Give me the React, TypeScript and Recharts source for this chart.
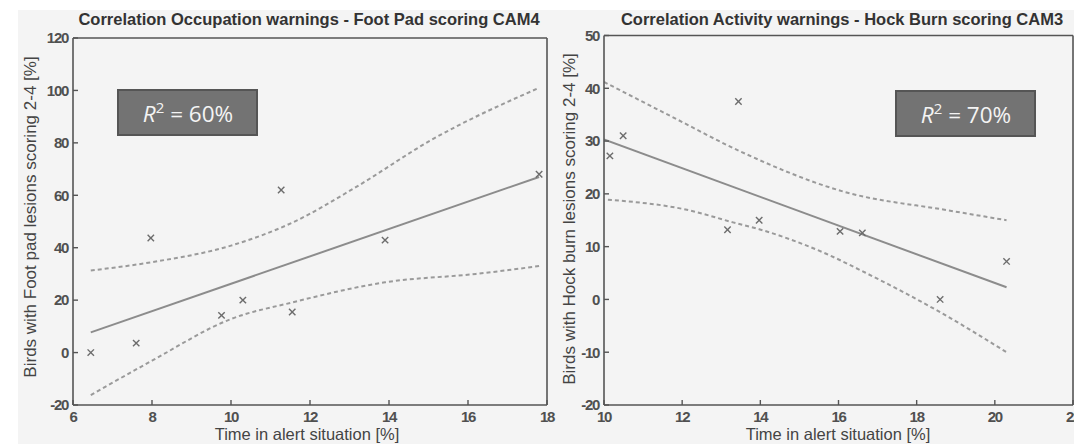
import React from 'react';
import { ComposedChart, XAxis, YAxis, Scatter, Line } from 'recharts';

// ---------- Left panel data ----------
const leftTitle = 'Correlation Occupation warnings - Foot Pad scoring CAM4';
const leftXLabel = 'Time in alert situation [%]';
const leftYLabel = 'Birds with Foot pad lesions scoring 2-4 [%]';
const leftR2 = '60%';
const leftXTicks = [6, 8, 10, 12, 14, 16, 18];
const leftYTicks = [-20, 0, 20, 40, 60, 80, 100, 120];
const leftPoints = [
  { x: 6.45, y: 0 },
  { x: 7.6, y: 3.6 },
  { x: 7.97, y: 43.7 },
  { x: 9.76, y: 14.2 },
  { x: 10.3, y: 20 },
  { x: 11.27, y: 62 },
  { x: 11.55, y: 15.5 },
  { x: 13.9, y: 42.9 },
  { x: 17.8, y: 68 },
];
const leftFit = [
  { x: 6.45, y: 7.7 },
  { x: 17.8, y: 67 },
];
const leftUpper = [
  { x: 6.45, y: 31.3 },
  { x: 8, y: 34.5 },
  { x: 10, y: 40.8 },
  { x: 11.57, y: 49.7 },
  { x: 13.15, y: 63 },
  { x: 15.06, y: 81 },
  { x: 17.8, y: 101 },
];
const leftLower = [
  { x: 6.45, y: -16.2 },
  { x: 8, y: -3.1 },
  { x: 10, y: 12.8 },
  { x: 11.57, y: 19.2 },
  { x: 13.9, y: 26.8 },
  { x: 16.2, y: 30 },
  { x: 17.8, y: 33 },
];

// ---------- Right panel data ----------
const rightTitle = 'Correlation Activity warnings - Hock Burn scoring CAM3';
const rightXLabel = 'Time in alert situation [%]';
const rightYLabel = 'Birds with Hock burn lesions scoring 2-4 [%]';
const rightR2 = '70%';
const rightXTicks = [10, 12, 14, 16, 18, 20, 22];
const rightYTicks = [-20, -10, 0, 10, 20, 30, 40, 50];
const rightPoints = [
  { x: 10.15, y: 27.2 },
  { x: 10.49, y: 31 },
  { x: 13.16, y: 13.2 },
  { x: 13.44, y: 37.5 },
  { x: 13.97, y: 15 },
  { x: 16.04, y: 12.9 },
  { x: 16.61, y: 12.6 },
  { x: 18.6, y: 0 },
  { x: 20.3, y: 7.2 },
];
const rightFit = [
  { x: 10, y: 30.3 },
  { x: 20.3, y: 2.3 },
];
const rightUpper = [
  { x: 10, y: 41.2 },
  { x: 11.74, y: 34.6 },
  { x: 13.5, y: 28 },
  { x: 16.14, y: 20.4 },
  { x: 18.79, y: 16.9 },
  { x: 20.3, y: 15 },
];
const rightLower = [
  { x: 10.1, y: 18.9 },
  { x: 12.17, y: 16.9 },
  { x: 13.3, y: 14.6 },
  { x: 13.97, y: 13.3 },
  { x: 15.7, y: 8.6 },
  { x: 16.68, y: 5.1 },
  { x: 18.62, y: -2.5 },
  { x: 20.3, y: -10 },
];

const AXIS = '#555';
const tickFont = {
  fill: '#505050',
  fontSize: 15,
  fontWeight: 'bold' as const,
  letterSpacing: -1.3,
  fontFamily: "'Liberation Sans', Arial, sans-serif",
};

const XMark = (props: any) => {
  const { cx, cy } = props;
  if (cx == null || cy == null) return null;
  const s = 3.2;
  return (
    <g stroke="#6c6c6c" strokeWidth={1.4}>
      <line x1={cx - s} y1={cy - s} x2={cx + s} y2={cy + s} />
      <line x1={cx - s} y1={cy + s} x2={cx + s} y2={cy - s} />
    </g>
  );
};

type PanelProps = {
  width: number;
  margin: { top: number; right: number; bottom: number; left: number };
  xDomain: [number, number];
  yDomain: [number, number];
  xTicks: number[];
  yTicks: number[];
  points: { x: number; y: number }[];
  fit: { x: number; y: number }[];
  upper: { x: number; y: number }[];
  lower: { x: number; y: number }[];
};

const Panel = (p: PanelProps) => (
  <ComposedChart width={p.width} height={444} margin={p.margin}>
    <XAxis
      xAxisId={0}
      type="number"
      dataKey="x"
      domain={p.xDomain}
      ticks={p.xTicks}
      allowDataOverflow
      height={30}
      tickSize={-5}
      tickMargin={11}
      interval={0}
      axisLine={{ stroke: AXIS, strokeWidth: 1.6 }}
      tickLine={{ stroke: AXIS, strokeWidth: 1.4 }}
      tick={tickFont}
    />
    <XAxis
      xAxisId="top"
      orientation="top"
      mirror
      type="number"
      dataKey="x"
      domain={p.xDomain}
      ticks={p.xTicks}
      allowDataOverflow
      tickSize={5}
      interval={0}
      tick={false}
      axisLine={{ stroke: AXIS, strokeWidth: 1.6 }}
      tickLine={{ stroke: AXIS, strokeWidth: 1.4 }}
    />
    <YAxis
      yAxisId={0}
      type="number"
      domain={p.yDomain}
      ticks={p.yTicks}
      allowDataOverflow
      width={50}
      tickSize={-5}
      tickMargin={10}
      interval={0}
      axisLine={{ stroke: AXIS, strokeWidth: 1.6 }}
      tickLine={{ stroke: AXIS, strokeWidth: 1.4 }}
      tick={tickFont}
    />
    <YAxis
      yAxisId="right"
      orientation="right"
      mirror
      type="number"
      domain={p.yDomain}
      ticks={p.yTicks}
      allowDataOverflow
      tickSize={5}
      interval={0}
      tick={false}
      axisLine={{ stroke: AXIS, strokeWidth: 1.6 }}
      tickLine={{ stroke: AXIS, strokeWidth: 1.4 }}
    />
    <Line
      data={p.upper}
      dataKey="y"
      type="monotone"
      stroke="#9a9a9a"
      strokeWidth={2}
      strokeDasharray="4 3"
      dot={false}
      isAnimationActive={false}
    />
    <Line
      data={p.lower}
      dataKey="y"
      type="monotone"
      stroke="#9a9a9a"
      strokeWidth={2}
      strokeDasharray="4 3"
      dot={false}
      isAnimationActive={false}
    />
    <Line
      data={p.fit}
      dataKey="y"
      type="linear"
      stroke="#8c8c8c"
      strokeWidth={2}
      dot={false}
      isAnimationActive={false}
    />
    <Scatter data={p.points} dataKey="y" shape={<XMark />} isAnimationActive={false} />
  </ComposedChart>
);

const R2Box = ({ x, y, value }: { x: number; y: number; value: string }) => (
  <g>
    <rect x={x} y={y} width={139} height={45} fill="#737373" stroke="#555" strokeWidth={2} />
    <text
      x={x + 70}
      y={y + 32}
      textAnchor="middle"
      fill="#f4f4f4"
      fontSize={22.5}
      fontFamily="'Open Sans', 'Noto Sans', sans-serif"
    >
      <tspan fontStyle="italic">R</tspan>
      <tspan fontSize={15} dy={-9}>2</tspan>
      <tspan dy={9}>{' = ' + value}</tspan>
    </text>
  </g>
);

export default function App() {
  const labelFont = "'Liberation Sans', Arial, sans-serif";
  return (
    <div style={{ position: 'absolute', left: 0, top: 0, width: 1074, height: 444, background: '#fff', overflow: 'hidden' }}>
      <div style={{ position: 'absolute', left: 18, top: 10, width: 1056, height: 434, background: '#f4f4f4' }} />
      <div style={{ position: 'absolute', left: 0, top: 0 }}>
        <Panel
          width={560}
          margin={{ top: 38, right: 13, bottom: 9, left: 23 }}
          xDomain={[6, 18]}
          yDomain={[-20, 120]}
          xTicks={leftXTicks}
          yTicks={leftYTicks}
          points={leftPoints}
          fit={leftFit}
          upper={leftUpper}
          lower={leftLower}
        />
      </div>
      <div style={{ position: 'absolute', left: 534, top: 0 }}>
        <Panel
          width={540}
          margin={{ top: 35.5, right: 1, bottom: 9, left: 20 }}
          xDomain={[10, 22]}
          yDomain={[-20, 50]}
          xTicks={rightXTicks}
          yTicks={rightYTicks}
          points={rightPoints}
          fit={rightFit}
          upper={rightUpper}
          lower={rightLower}
        />
      </div>
      <svg
        width={1074}
        height={444}
        style={{ position: 'absolute', left: 0, top: 0, pointerEvents: 'none' }}
      >
        <text x={309} y={25} textAnchor="middle" fontSize={16.5} fontWeight="bold" fill="#333" fontFamily={labelFont}>
          {leftTitle}
        </text>
        <text x={842} y={25} textAnchor="middle" fontSize={16.5} fontWeight="bold" fill="#333" fontFamily={labelFont}>
          {rightTitle}
        </text>
        <text x={307} y={440} textAnchor="middle" fontSize={16.5} fill="#444" fontFamily={labelFont}>
          {leftXLabel}
        </text>
        <text x={838} y={440} textAnchor="middle" fontSize={16.5} fill="#444" fontFamily={labelFont}>
          {rightXLabel}
        </text>
        <text
          x={0}
          y={0}
          transform="translate(36,217) rotate(-90)"
          textAnchor="middle"
          fontSize={17}
          fill="#444"
          fontFamily={labelFont}
        >
          {leftYLabel}
        </text>
        <text
          x={0}
          y={0}
          transform="translate(575,219) rotate(-90)"
          textAnchor="middle"
          fontSize={17}
          fill="#444"
          fontFamily={labelFont}
        >
          {rightYLabel}
        </text>
        <R2Box x={118} y={90} value={leftR2} />
        <R2Box x={896} y={91} value={rightR2} />
      </svg>
    </div>
  );
}
